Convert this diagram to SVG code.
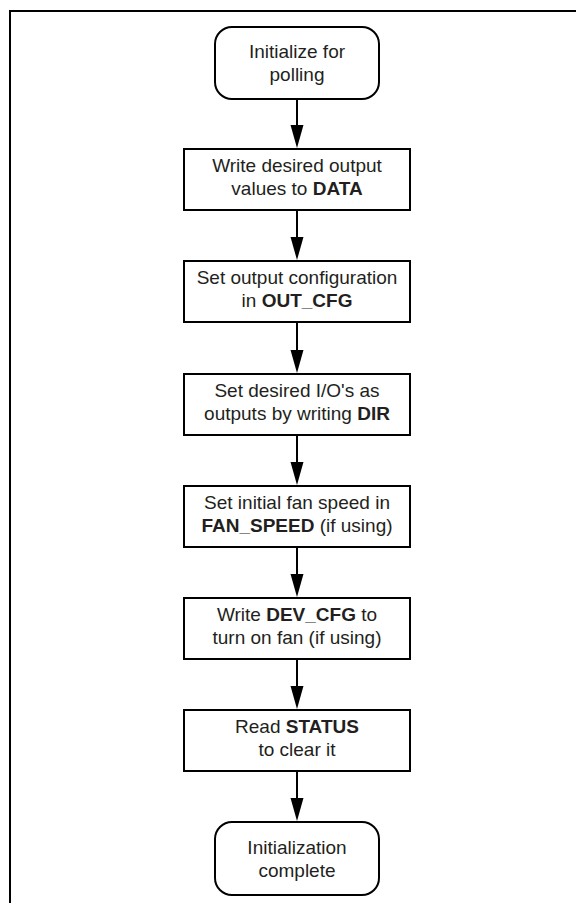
<svg xmlns="http://www.w3.org/2000/svg" width="576" height="903" viewBox="0 0 576 903">
<style>
.n{fill:#fff;stroke:#000;stroke-width:2}
.t{font-family:"Liberation Sans",Arial,sans-serif;font-size:19px;fill:#231f20;text-anchor:middle}
.b{font-weight:bold}
.c{stroke:#000;stroke-width:2;fill:none}
.frame{stroke:#000;stroke-width:2;fill:none}
</style>
<defs>
<marker id="ah" markerUnits="userSpaceOnUse" markerWidth="14" markerHeight="24" viewBox="0 0 14 24" refX="7" refY="24" orient="auto-start-reverse">
<path d="M0,0 L14,0 L7,24 Z" fill="#000" transform="rotate(-90 7 12) translate(0 0)"/>
</marker>
</defs>
<rect width="576" height="903" fill="#fff"/>
<path class="frame" d="M10,903 V11 H576"/>
<g id="connectors">
<line class="c" x1="297" y1="99" x2="297" y2="128"/><path d="M290.5,125 L303.5,125 L297,148 Z"/>
<line class="c" x1="297" y1="210" x2="297" y2="240"/><path d="M290.5,237 L303.5,237 L297,260 Z"/>
<line class="c" x1="297" y1="322" x2="297" y2="353"/><path d="M290.5,350 L303.5,350 L297,373 Z"/>
<line class="c" x1="297" y1="435" x2="297" y2="465"/><path d="M290.5,462 L303.5,462 L297,485 Z"/>
<line class="c" x1="297" y1="547" x2="297" y2="577"/><path d="M290.5,574 L303.5,574 L297,597 Z"/>
<line class="c" x1="297" y1="659" x2="297" y2="689"/><path d="M290.5,686 L303.5,686 L297,709 Z"/>
<line class="c" x1="297" y1="771" x2="297" y2="801"/><path d="M290.5,798 L303.5,798 L297,821 Z"/>
</g>
<g id="start">
<rect class="n" x="215" y="27" width="164" height="72" rx="17"/>
<text class="t" x="297" y="58">Initialize for</text>
<text class="t" x="297" y="81">polling</text>
</g>
<g id="data">
<rect class="n" x="184" y="149" width="226" height="61"/>
<text class="t" x="297" y="172">Write desired output</text>
<text class="t" x="297" y="195">values to <tspan class="b">DATA</tspan></text>
</g>
<g id="outcfg">
<rect class="n" x="184" y="261" width="226" height="61"/>
<text class="t" x="297" y="284">Set output configuration</text>
<text class="t" x="297" y="307">in <tspan class="b">OUT_CFG</tspan></text>
</g>
<g id="dir">
<rect class="n" x="184" y="374" width="226" height="61"/>
<text class="t" x="297" y="397">Set desired I/O's as</text>
<text class="t" x="297" y="420">outputs by writing <tspan class="b">DIR</tspan></text>
</g>
<g id="fanspeed">
<rect class="n" x="184" y="486" width="226" height="61"/>
<text class="t" x="297" y="509">Set initial fan speed in</text>
<text class="t" x="297" y="532"><tspan class="b">FAN_SPEED</tspan> (if using)</text>
</g>
<g id="devcfg">
<rect class="n" x="184" y="598" width="226" height="61"/>
<text class="t" x="297" y="621">Write <tspan class="b">DEV_CFG</tspan> to</text>
<text class="t" x="297" y="644">turn on fan (if using)</text>
</g>
<g id="status">
<rect class="n" x="184" y="710" width="226" height="61"/>
<text class="t" x="297" y="733">Read <tspan class="b">STATUS</tspan></text>
<text class="t" x="297" y="756">to clear it</text>
</g>
<g id="end">
<rect class="n" x="215" y="822" width="164" height="73" rx="17"/>
<text class="t" x="297" y="854">Initialization</text>
<text class="t" x="297" y="877">complete</text>
</g>
</svg>
